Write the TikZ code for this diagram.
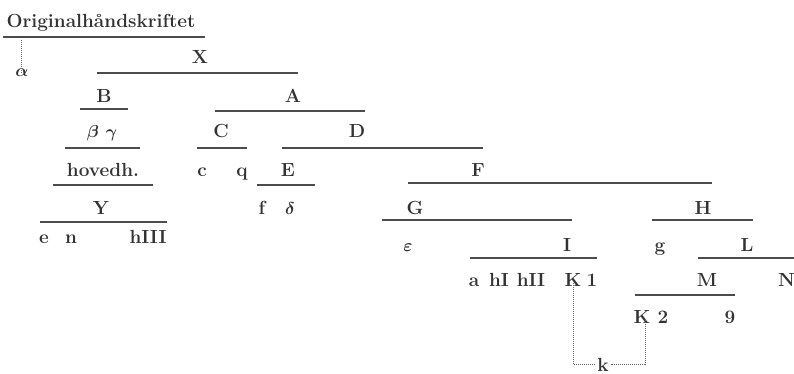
\documentclass[tikz,border=0pt]{standalone}
\usepackage{fontspec}
\begin{document}
\begin{tikzpicture}[x=1pt,y=-1pt,
  lbl/.style={anchor=base,inner sep=0pt,text=black!80,font=\fontsize{19}{22}\selectfont\bfseries\boldmath},
  bar/.style={draw=black!70,line width=1.1pt},
  dots/.style={draw=black!60,line width=0.8pt,dash pattern=on 0.8pt off 1.2pt}]
\useasboundingbox[fill=white] (0,0) rectangle (794,374);
% labels
\node[lbl] (orig) at (101,28) {Originalhåndskriftet};
\node[lbl] (alpha) at (22,77) {$\alpha$};
\node[lbl] (X) at (200,64) {X};
\node[lbl] (B) at (104,103) {B};
\node[lbl] (A) at (293,103) {A};
\node[lbl] (bg) at (102,138) {$\beta\ \gamma$};
\node[lbl] (C) at (221,138) {C};
\node[lbl] (D) at (357,138) {D};
\node[lbl] (hov) at (103,176) {hovedh.};
\node[lbl] (c) at (202,176) {c};
\node[lbl] (q) at (242,176) {q};
\node[lbl] (E) at (288,176) {E};
\node[lbl] (F) at (478,176) {F};
\node[lbl] (Y) at (101,214) {Y};
\node[lbl] (f) at (262,214) {f};
\node[lbl] (delta) at (290,214) {$\delta$};
\node[lbl] (G) at (415,214) {G};
\node[lbl] (H) at (703,214) {H};
\node[lbl] (e) at (44,243) {e};
\node[lbl] (n) at (71,243) {n};
\node[lbl] (hIII) at (148,243) {hIII};
\node[lbl] (eps) at (408,251) {$\varepsilon$};
\node[lbl] (I) at (567,251) {I};
\node[lbl] (g) at (660,251) {g};
\node[lbl] (L) at (747,251) {L};
\node[lbl] (a) at (474,286) {a};
\node[lbl] (hI) at (499,286) {hI};
\node[lbl] (hII) at (531,286) {hII};
\node[lbl] (K1) at (573,286) {K};
\node[lbl] (one) at (592,286) {1};
\node[lbl] (M) at (707,286) {M};
\node[lbl,anchor=base west] (N) at (778,286) {N};
\node[lbl] (K2) at (642,323) {K};
\node[lbl] (two) at (663,323) {2};
\node[lbl] (nine) at (730,323) {9};
\node[lbl,fill=white,inner xsep=2pt,inner ysep=0pt] (k) at (603,371) {k};
% bars
\draw[bar] (3,37) -- (205,37);
\draw[bar] (97,73) -- (298,73);
\draw[bar] (80,109) -- (128,109);
\draw[bar] (215,111) -- (365,111);
\draw[bar] (65,148) -- (140,148);
\draw[bar] (197,148) -- (247,148);
\draw[bar] (282,148) -- (483,148);
\draw[bar] (53,185) -- (153,185);
\draw[bar] (257,185) -- (315,185);
\draw[bar] (408,183) -- (712,183);
\draw[bar] (40,222) -- (167,222);
\draw[bar] (382,220) -- (572,220);
\draw[bar] (652,220) -- (753,220);
\draw[bar] (470,258) -- (597,258);
\draw[bar] (698,258) -- (794,258);
\draw[bar] (635,295) -- (735,295);
% dotted links
\coordinate (origfoot) at (21,40);
\draw[dots] (origfoot) -- ([yshift=-4pt]origfoot |- alpha.north);
\draw[dots] ([yshift=3pt]K1.south) |- (k.west);
\draw[dots] ([xshift=3pt,yshift=3pt]K2.south) |- (k.east);
\end{tikzpicture}
\end{document}
